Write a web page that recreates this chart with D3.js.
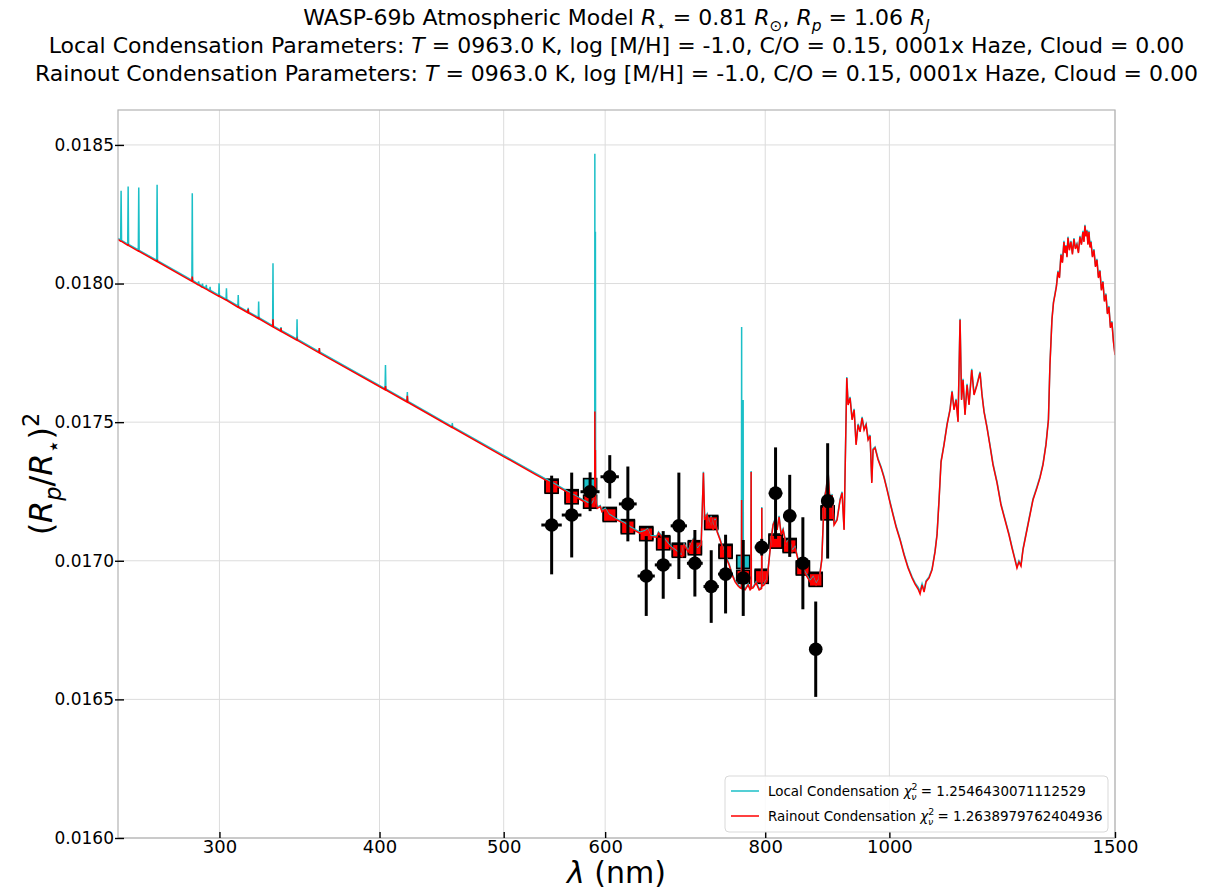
<!DOCTYPE html>
<html>
<head>
<meta charset="utf-8">
<script src="https://cdnjs.cloudflare.com/ajax/libs/d3/7.8.5/d3.min.js"></script>
<style>
  body { margin: 0; background: #fff; }
  svg { font-family: "DejaVu Sans", sans-serif; }
</style>
</head>
<body>
<script>
// model spectra (nm, transit depth)
var wave = [
  250.0, 251.2, 251.4, 251.6, 254.4, 254.6, 254.8, 259.3,
  259.5, 259.7, 268.0, 268.2, 268.4, 285.5, 285.7, 285.9,
  288.8, 289.0, 289.2, 290.8, 291.0, 291.2, 292.8, 293.0,
  293.2, 294.8, 295.0, 295.2, 299.6, 299.8, 300.0, 303.6,
  303.8, 304.0, 310.1, 310.3, 310.5, 315.7, 315.9, 316.1,
  321.7, 321.9, 322.1, 330.1, 330.3, 330.5, 334.9, 335.1,
  335.3, 344.7, 344.9, 345.1, 358.8, 359.0, 359.2, 404.0,
  404.3, 404.6, 420.2, 420.5, 420.8, 455.6, 455.9, 456.2,
  500.0, 530.0, 553.5, 563.6, 573.8, 580.7, 586.0, 588.4,
  588.9, 589.0, 589.2, 589.5, 589.6, 589.8, 590.6, 591.6,
  594.8, 596.6, 600.1, 603.7, 611.0, 620.2, 627.7, 639.1,
  644.8, 647.5, 650.6, 658.5, 660.4, 664.5, 674.4, 688.8,
  691.5, 696.5, 702.8, 707.9, 713.0, 715.9, 717.5, 720.7,
  723.3, 725.9, 728.5, 731.1, 733.8, 737.7, 741.7, 745.7,
  749.8, 753.8, 757.9, 762.0, 764.7, 766.5, 766.8, 767.1,
  768.6, 768.9, 769.2, 771.6, 775.8, 778.6, 779.7, 780.0,
  780.3, 782.8, 787.0, 791.3, 794.8, 795.1, 795.4, 798.4,
  802.7, 805.6, 808.5, 811.4, 814.3, 817.3, 820.2, 823.2,
  826.1, 830.6, 835.1, 839.6, 844.1, 848.7, 853.3, 857.9,
  862.6, 867.2, 871.9, 876.6, 881.4, 885.6, 889.3, 892.5,
  895.7, 899.0, 902.2, 905.4, 910.3, 915.2, 918.5, 921.8,
  926.3, 928.5, 931.8, 935.2, 938.6, 941.9, 945.3, 948.7,
  952.1, 955.6, 959.0, 962.5, 965.9, 968.9, 971.1, 974.6,
  979.9, 985.2, 990.5, 995.9, 1001.2, 1006.6, 1012.1, 1019.4,
  1026.7, 1034.1, 1041.6, 1047.2, 1052.9, 1056.7, 1060.5, 1064.3,
  1068.1, 1073.9, 1079.7, 1085.5, 1089.4, 1093.4, 1097.3, 1103.2,
  1109.2, 1115.2, 1119.2, 1123.2, 1127.3, 1131.3, 1135.4, 1138.5,
  1141.5, 1145.6, 1149.8, 1153.9, 1159.5, 1164.3, 1170.6, 1176.9,
  1181.1, 1185.4, 1191.8, 1198.2, 1204.7, 1213.4, 1222.1, 1230.9,
  1239.8, 1246.5, 1253.2, 1257.7, 1262.2, 1266.8, 1271.4, 1278.2,
  1285.1, 1294.4, 1303.7, 1310.8, 1317.9, 1325.0, 1330.9, 1334.5,
  1339.3, 1343.0, 1346.6, 1350.2, 1353.8, 1357.5, 1361.2, 1364.8,
  1368.5, 1371.0, 1373.4, 1376.0, 1378.4, 1382.0, 1385.8, 1389.5,
  1393.3, 1397.0, 1400.8, 1404.6, 1408.4, 1412.2, 1416.0, 1418.6,
  1421.1, 1423.6, 1426.2, 1428.8, 1431.4, 1434.0, 1436.5, 1440.4,
  1444.3, 1448.2, 1452.1, 1456.0, 1459.9, 1463.8, 1467.8, 1471.7,
  1475.7, 1479.7, 1483.7, 1487.7, 1491.7, 1495.8, 1500.0
];

var localDepth = [
  0.018163, 0.018157, 0.018335, 0.018156, 0.018142, 0.018350, 0.018141, 0.018121,
  0.018346, 0.018120, 0.018084, 0.018356, 0.018083, 0.018012, 0.018326, 0.018011,
  0.017999, 0.018008, 0.017998, 0.017991, 0.018000, 0.017990, 0.017984, 0.017995,
  0.017983, 0.017976, 0.017988, 0.017975, 0.017958, 0.018001, 0.017957, 0.017944,
  0.017983, 0.017943, 0.017919, 0.017959, 0.017918, 0.017899, 0.017912, 0.017898,
  0.017878, 0.017935, 0.017877, 0.017848, 0.018073, 0.017847, 0.017832, 0.017843,
  0.017831, 0.017800, 0.017871, 0.017799, 0.017754, 0.017767, 0.017753, 0.017621,
  0.017706, 0.017620, 0.017577, 0.017609, 0.017576, 0.017485, 0.017497, 0.017484,
  0.017380, 0.017314, 0.017266, 0.017245, 0.017225, 0.017212, 0.017206, 0.017222,
  0.017250, 0.018468, 0.017280, 0.017270, 0.018187, 0.017240, 0.017210, 0.017194,
  0.017199, 0.017181, 0.017189, 0.017169, 0.017154, 0.017139, 0.017122, 0.017103,
  0.017109, 0.017115, 0.017091, 0.017089, 0.017104, 0.017089, 0.017054, 0.017019,
  0.017061, 0.017036, 0.017079, 0.017043, 0.017061, 0.017321, 0.017151, 0.017169,
  0.017126, 0.017162, 0.017115, 0.017151, 0.017108, 0.017079, 0.017043, 0.017014,
  0.016989, 0.016953, 0.016928, 0.016913, 0.016906, 0.016904, 0.017843, 0.016903,
  0.016902, 0.017580, 0.016902, 0.016899, 0.016917, 0.016899, 0.016902, 0.017324,
  0.016904, 0.016906, 0.016924, 0.016899, 0.016905, 0.017194, 0.016912, 0.016917,
  0.016935, 0.017007, 0.017079, 0.017133, 0.017151, 0.017115, 0.017162, 0.017097,
  0.017115, 0.017061, 0.017079, 0.017036, 0.017050, 0.017007, 0.016989, 0.016964,
  0.016946, 0.016928, 0.016942, 0.016917, 0.016935, 0.017007, 0.017223, 0.017259,
  0.017324, 0.017205, 0.017241, 0.017133, 0.017151, 0.017223, 0.017249, 0.017115,
  0.017663, 0.017566, 0.017591, 0.017512, 0.017548, 0.017422, 0.017494, 0.017469,
  0.017519, 0.017476, 0.017494, 0.017440, 0.017454, 0.017285, 0.017404, 0.017411,
  0.017368, 0.017339, 0.017303, 0.017259, 0.017213, 0.017169, 0.017126, 0.017079,
  0.017025, 0.016978, 0.016942, 0.016920, 0.016905, 0.016890, 0.016917, 0.016893,
  0.016928, 0.016942, 0.016971, 0.017036, 0.017097, 0.017223, 0.017360, 0.017422,
  0.017494, 0.017548, 0.017613, 0.017548, 0.017584, 0.017505, 0.017873, 0.017584,
  0.017656, 0.017530, 0.017638, 0.017566, 0.017692, 0.017602, 0.017638, 0.017682,
  0.017602, 0.017541, 0.017483, 0.017418, 0.017350, 0.017285, 0.017205, 0.017151,
  0.017097, 0.017050, 0.017007, 0.016978, 0.017000, 0.016985, 0.017043, 0.017097,
  0.017151, 0.017223, 0.017267, 0.017303, 0.017350, 0.017422, 0.017512, 0.017710,
  0.017873, 0.017934, 0.017963, 0.017994, 0.018046, 0.018024, 0.018107, 0.018079,
  0.018154, 0.018114, 0.018139, 0.018099, 0.018169, 0.018124, 0.018154, 0.018109,
  0.018164, 0.018129, 0.018144, 0.018114, 0.018172, 0.018144, 0.018190, 0.018154,
  0.018212, 0.018174, 0.018194, 0.018144, 0.018190, 0.018134, 0.018154, 0.018099,
  0.018124, 0.018064, 0.018089, 0.018024, 0.018049, 0.017979, 0.018009, 0.017939,
  0.017964, 0.017894, 0.017919, 0.017844, 0.017864, 0.017794, 0.017746
];

var rainoutDepth = [
  0.018159, 0.018153, 0.018153, 0.018152, 0.018138, 0.018140, 0.018137, 0.018117,
  0.018118, 0.018116, 0.018080, 0.018086, 0.018079, 0.018008, 0.018025, 0.018007,
  0.017995, 0.017995, 0.017994, 0.017987, 0.017987, 0.017986, 0.017980, 0.017980,
  0.017979, 0.017972, 0.017972, 0.017971, 0.017954, 0.017956, 0.017953, 0.017940,
  0.017941, 0.017939, 0.017915, 0.017917, 0.017914, 0.017895, 0.017908, 0.017894,
  0.017874, 0.017880, 0.017873, 0.017844, 0.017871, 0.017843, 0.017828, 0.017839,
  0.017827, 0.017796, 0.017800, 0.017795, 0.017750, 0.017767, 0.017749, 0.017617,
  0.017630, 0.017616, 0.017573, 0.017595, 0.017572, 0.017481, 0.017483, 0.017480,
  0.017376, 0.017310, 0.017262, 0.017241, 0.017221, 0.017207, 0.017201, 0.017215,
  0.017240, 0.017538, 0.017260, 0.017255, 0.017400, 0.017230, 0.017205, 0.017189,
  0.017195, 0.017177, 0.017185, 0.017165, 0.017150, 0.017135, 0.017118, 0.017099,
  0.017105, 0.017111, 0.017087, 0.017085, 0.017100, 0.017085, 0.017050, 0.017015,
  0.017057, 0.017032, 0.017075, 0.017039, 0.017057, 0.017317, 0.017147, 0.017165,
  0.017122, 0.017158, 0.017111, 0.017147, 0.017104, 0.017075, 0.017039, 0.017010,
  0.016985, 0.016949, 0.016924, 0.016909, 0.016902, 0.016900, 0.017219, 0.016899,
  0.016898, 0.016920, 0.016898, 0.016895, 0.016913, 0.016895, 0.016898, 0.017320,
  0.016900, 0.016902, 0.016920, 0.016895, 0.016900, 0.017190, 0.016908, 0.016913,
  0.016931, 0.017003, 0.017075, 0.017129, 0.017147, 0.017111, 0.017158, 0.017093,
  0.017111, 0.017057, 0.017075, 0.017032, 0.017046, 0.017003, 0.016985, 0.016960,
  0.016942, 0.016924, 0.016938, 0.016913, 0.016931, 0.017003, 0.017219, 0.017255,
  0.017320, 0.017201, 0.017237, 0.017129, 0.017147, 0.017219, 0.017245, 0.017111,
  0.017659, 0.017562, 0.017587, 0.017508, 0.017544, 0.017418, 0.017490, 0.017465,
  0.017515, 0.017472, 0.017490, 0.017436, 0.017450, 0.017281, 0.017400, 0.017407,
  0.017364, 0.017335, 0.017299, 0.017255, 0.017209, 0.017165, 0.017122, 0.017075,
  0.017021, 0.016974, 0.016938, 0.016916, 0.016898, 0.016880, 0.016913, 0.016887,
  0.016924, 0.016938, 0.016967, 0.017032, 0.017093, 0.017219, 0.017356, 0.017418,
  0.017490, 0.017544, 0.017609, 0.017544, 0.017580, 0.017501, 0.017869, 0.017580,
  0.017652, 0.017526, 0.017634, 0.017562, 0.017688, 0.017598, 0.017634, 0.017678,
  0.017598, 0.017537, 0.017479, 0.017414, 0.017346, 0.017281, 0.017201, 0.017147,
  0.017093, 0.017046, 0.017003, 0.016974, 0.016996, 0.016981, 0.017039, 0.017093,
  0.017147, 0.017219, 0.017263, 0.017299, 0.017346, 0.017418, 0.017508, 0.017706,
  0.017869, 0.017930, 0.017959, 0.017990, 0.018042, 0.018020, 0.018103, 0.018075,
  0.018150, 0.018110, 0.018135, 0.018095, 0.018165, 0.018120, 0.018150, 0.018105,
  0.018160, 0.018125, 0.018140, 0.018110, 0.018168, 0.018140, 0.018186, 0.018150,
  0.018208, 0.018170, 0.018190, 0.018140, 0.018186, 0.018130, 0.018150, 0.018095,
  0.018120, 0.018060, 0.018085, 0.018020, 0.018045, 0.017975, 0.018005, 0.017935,
  0.017960, 0.017890, 0.017915, 0.017840, 0.017860, 0.017790, 0.017742
];

// observed spectrum
var obsWave = [545, 565, 584, 605, 625, 646, 666, 685, 705, 726, 745, 769, 795, 815, 836, 856, 876, 895];
var obsHalfWidth = [10, 10, 10, 10, 10, 10, 10, 10, 10, 10, 10, 10, 10, 10, 10, 10, 10, 10];
var obsDepth = [0.017129, 0.017165, 0.017249, 0.017303, 0.017205, 0.016945, 0.016985, 0.017126, 0.016991,
                0.016907, 0.016952, 0.016938, 0.017049, 0.017244, 0.017162, 0.016991, 0.016681, 0.017216];
var obsErr = [0.000178, 0.000153, 0.000070, 0.000078, 0.000135, 0.000144, 0.000122, 0.000192, 0.000120,
              0.000131, 0.000142, 0.000137, 0.000030, 0.000165, 0.000148, 0.000166, 0.000172, 0.000208];

// models binned to the observed channels
var binLocal = [0.017271, 0.017233, 0.017273, 0.017169, 0.017125, 0.017100, 0.017067, 0.017040, 0.017049,
                0.017140, 0.017036, 0.016996, 0.016946, 0.017073, 0.017057, 0.016976, 0.016935, 0.017175];
var binRainout = [0.017267, 0.017229, 0.017213, 0.017165, 0.017121, 0.017096, 0.017063, 0.017036, 0.017045,
                  0.017136, 0.017032, 0.016942, 0.016942, 0.017069, 0.017053, 0.016972, 0.016931, 0.017171];

var xTicks = [300, 400, 500, 600, 800, 1000, 1500];
var yTicks = [0.0160, 0.0165, 0.0170, 0.0175, 0.0180, 0.0185];
var chiLocal = "1.2546430071112529";
var chiRainout = "1.2638979762404936";

var width = 1230, height = 894;
var plotL = 118, plotR = 1115, plotT = 110, plotB = 838;
var cyan = "#1bbfc7", red = "#ff0000";

var svg = d3.select("body").append("svg")
  .attr("width", width)
  .attr("height", height);

var x = d3.scaleLog().domain([250, 1500]).range([plotL, plotR]);
var y = d3.scaleLinear().domain([0.0160, 0.018626]).range([plotB, plotT]);

// text with italics / sub / superscripts
function richText(sel, segs, size) {
  var cur = 0;
  segs.forEach(function(s) {
    var small = s.sub || s.sup;
    var off = s.sub ? 0.28 * size : (s.sup ? -0.42 * size : 0);
    var t = sel.append("tspan")
      .attr("font-size", small ? size * 0.7 : size)
      .attr("dy", off - cur)
      .text(s.t);
    if (s.it) t.attr("font-style", "italic");
    if (s.dx) t.attr("dx", s.dx);
    cur = off;
  });
}

// grid
svg.append("g").selectAll("line").data(xTicks).enter().append("line")
  .attr("x1", function(d) { return x(d); }).attr("x2", function(d) { return x(d); })
  .attr("y1", plotT).attr("y2", plotB)
  .attr("stroke", "#dcdcdc").attr("stroke-width", 1);
svg.append("g").selectAll("line").data(yTicks).enter().append("line")
  .attr("y1", function(d) { return y(d); }).attr("y2", function(d) { return y(d); })
  .attr("x1", plotL).attr("x2", plotR)
  .attr("stroke", "#dcdcdc").attr("stroke-width", 1);

svg.append("clipPath").attr("id", "plotclip").append("rect")
  .attr("x", plotL).attr("y", plotT).attr("width", plotR - plotL).attr("height", plotB - plotT);

var plot = svg.append("g").attr("clip-path", "url(#plotclip)");

// binned model squares
var sq = 13;
function squares(vals, color) {
  plot.append("g").selectAll("rect").data(vals).enter().append("rect")
    .attr("x", function(d, i) { return x(obsWave[i]) - sq / 2; })
    .attr("y", function(d) { return y(d) - sq / 2; })
    .attr("width", sq).attr("height", sq)
    .attr("fill", color).attr("stroke", "#000").attr("stroke-width", 1.6);
}
squares(binLocal, cyan);
squares(binRainout, red);

// spectra
var line = d3.line()
  .x(function(d, i) { return x(wave[i]); })
  .y(function(d) { return y(d); });
plot.append("path").datum(localDepth).attr("d", line)
  .attr("fill", "none").attr("stroke", cyan).attr("stroke-width", 1.5);
plot.append("path").datum(rainoutDepth).attr("d", line)
  .attr("fill", "none").attr("stroke", red).attr("stroke-width", 1.5);

// observations
var obs = plot.append("g");
obs.selectAll("line.ev").data(obsDepth).enter().append("line").attr("class", "ev")
  .attr("x1", function(d, i) { return x(obsWave[i]); })
  .attr("x2", function(d, i) { return x(obsWave[i]); })
  .attr("y1", function(d, i) { return y(d - obsErr[i]); })
  .attr("y2", function(d, i) { return y(d + obsErr[i]); })
  .attr("stroke", "#000").attr("stroke-width", 3);
obs.selectAll("line.eh").data(obsDepth).enter().append("line").attr("class", "eh")
  .attr("x1", function(d, i) { return x(obsWave[i] - obsHalfWidth[i]); })
  .attr("x2", function(d, i) { return x(obsWave[i] + obsHalfWidth[i]); })
  .attr("y1", function(d) { return y(d); })
  .attr("y2", function(d) { return y(d); })
  .attr("stroke", "#000").attr("stroke-width", 3);
obs.selectAll("circle").data(obsDepth).enter().append("circle")
  .attr("cx", function(d, i) { return x(obsWave[i]); })
  .attr("cy", function(d) { return y(d); })
  .attr("r", 6.8).attr("fill", "#000");

// frame
svg.append("rect").attr("x", plotL).attr("y", plotT)
  .attr("width", plotR - plotL).attr("height", plotB - plotT)
  .attr("fill", "none").attr("stroke", "#b3b3b3").attr("stroke-width", 1.2);

// axes
var yAxis = svg.append("g").attr("transform", "translate(" + plotL + ",0)")
  .call(d3.axisLeft(y).tickValues(yTicks).tickFormat(d3.format(".4f")).tickSize(-6).tickPadding(4));
yAxis.selectAll(".tick line").attr("x1", -3).attr("x2", 6);
var xAxis = svg.append("g").attr("transform", "translate(0," + plotB + ")")
  .call(d3.axisBottom(x).tickValues(xTicks).tickFormat(d3.format("d")).tickSize(-6).tickPadding(2));
[xAxis, yAxis].forEach(function(a) {
  a.select(".domain").remove();
  a.selectAll(".tick line").attr("stroke", "#000").attr("stroke-width", 1.4);
  a.selectAll(".tick text").attr("font-family", "DejaVu Sans").attr("font-size", 18).attr("fill", "#000");
});
yAxis.selectAll(".tick text").attr("font-size", 17);

// title
var titleLines = [
  [{t: "WASP-69b Atmospheric Model "}, {t: "R", it: 1}, {t: "\u22c6", sub: 1}, {t: " = 0.81 "},
   {t: "R", it: 1}, {t: "\u2299", sub: 1}, {t: ", "}, {t: "R", it: 1}, {t: "p", it: 1, sub: 1},
   {t: " = 1.06 "}, {t: "R", it: 1}, {t: "J", it: 1, sub: 1}],
  [{t: "Local Condensation Parameters: "}, {t: "T", it: 1},
   {t: " = 0963.0 K, log [M/H] = -1.0, C/O = 0.15, 0001x Haze, Cloud = 0.00"}],
  [{t: "Rainout Condensation Parameters: "}, {t: "T", it: 1},
   {t: " = 0963.0 K, log [M/H] = -1.0, C/O = 0.15, 0001x Haze, Cloud = 0.00"}]
];
titleLines.forEach(function(segs, i) {
  var t = svg.append("text")
    .attr("x", (plotL + plotR) / 2).attr("y", 25 + i * 28)
    .attr("text-anchor", "middle").attr("fill", "#000");
  richText(t, segs, 22);
});

// axis labels
var xl = svg.append("text").attr("x", (plotL + plotR) / 2).attr("y", 883)
  .attr("text-anchor", "middle").attr("fill", "#000");
richText(xl, [{t: "\u03bb", it: 1}, {t: " (nm)"}], 30);

var yl = svg.append("text")
  .attr("transform", "translate(52," + (plotT + plotB) / 2 + ") rotate(-90)")
  .attr("text-anchor", "middle").attr("fill", "#000");
richText(yl, [{t: "("}, {t: "R", it: 1}, {t: "p", it: 1, sub: 1}, {t: "/"}, {t: "R", it: 1},
  {t: "\u22c6", sub: 1}, {t: ")"}, {t: "2", sup: 1}], 32);

// legend
var lg = svg.append("g");
lg.append("rect").attr("x", 725).attr("y", 776).attr("width", 383).attr("height", 56)
  .attr("rx", 4).attr("fill", "#fff").attr("fill-opacity", 0.85)
  .attr("stroke", "#d9d9d9").attr("stroke-width", 1);
var legendItems = [
  {name: "Local Condensation ", chi: chiLocal, color: cyan},
  {name: "Rainout Condensation ", chi: chiRainout, color: red}
];
var legendTexts = [];
legendItems.forEach(function(d, i) {
  var ly = 791 + i * 25;
  lg.append("line").attr("x1", 731).attr("x2", 759).attr("y1", ly).attr("y2", ly)
    .attr("stroke", d.color).attr("stroke-width", 1.5);
  var t = lg.append("text").attr("x", 768).attr("y", ly + 5).attr("fill", "#000");
  richText(t, [{t: d.name}, {t: "\u03c7", it: 1}, {t: "2", sup: 1},
    {t: "\u03bd", it: 1, sub: 1, dx: -6.5}, {t: " = " + d.chi}], 14);
  legendTexts.push(t);
});
// keep the longer entry inside the box
var maxW = d3.max(legendTexts, function(t) { return t.node().getBBox().width; });
if (maxW > 335) {
  var k = 335 / maxW;
  legendTexts.forEach(function(t) {
    t.selectAll("tspan").each(function() {
      var s = d3.select(this);
      s.attr("font-size", +s.attr("font-size") * k).attr("dy", +s.attr("dy") * k);
      if (s.attr("dx")) s.attr("dx", +s.attr("dx") * k);
    });
  });
}
</script>
</body>
</html>
